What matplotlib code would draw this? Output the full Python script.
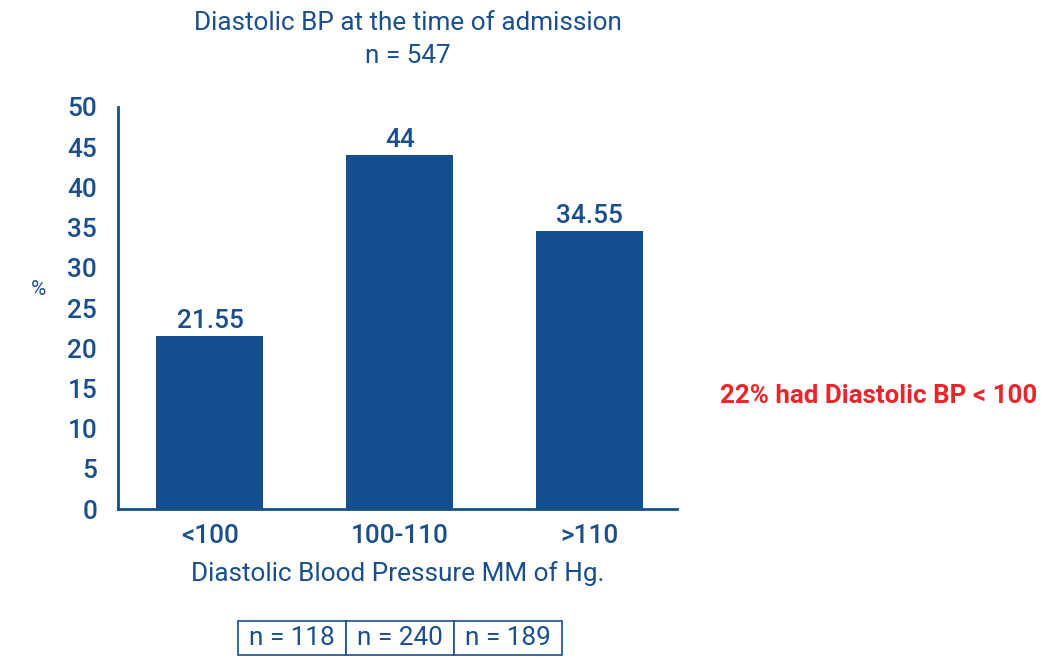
import matplotlib
matplotlib.use("Agg")
import matplotlib.pyplot as plt

categories = ["<100", "100-110", ">110"]
percent = [21.55, 44, 34.55]
value_labels = ["21.55", "44", "34.55"]
counts = ["n = 118", "n = 240", "n = 189"]
y_ticks = [0, 5, 10, 15, 20, 25, 30, 35, 40, 45, 50]

blue = "#14508f"
text_blue = "#1b4f8c"
red = "#e8262b"

plt.rcParams['font.family'] = ['Roboto', 'DejaVu Sans']
fs = 18.8

fig = plt.figure(figsize=(10.41, 6.58), dpi=100)
ax = fig.add_axes([0.1134, 0.2264, 0.5366, 0.611])

x = range(len(categories))
bars = ax.bar(x, percent, width=0.563, color=blue)
for b, lab in zip(bars, value_labels):
    ax.annotate(lab, (b.get_x() + b.get_width() / 2, b.get_height()),
                xytext=(0, 2), textcoords="offset points", fontweight="medium",
                ha="center", va="bottom", fontsize=fs, color=text_blue)

ax.set_xlim(-0.484, 2.458)
ax.set_ylim(0, 50)
ax.set_yticks(y_ticks)
ax.set_xticks(list(x))
ax.set_xticklabels(categories)
ax.tick_params(length=0, labelsize=fs, colors=text_blue)
ax.tick_params(axis="y", pad=15)
ax.tick_params(axis="x", pad=11)
for lbl in ax.get_xticklabels() + ax.get_yticklabels():
    lbl.set_fontweight("medium")
for s in ["top", "right"]:
    ax.spines[s].set_visible(False)
for s in ["left", "bottom"]:
    ax.spines[s].set_color(blue)
    ax.spines[s].set_linewidth(2)

ax.set_xlabel("Diastolic Blood Pressure MM of Hg.", fontsize=fs, color=text_blue, labelpad=9)
fig.text(38 / 1041, 1 - 290 / 658, "%", fontsize=15, color=text_blue, ha="center", va="center")

fig.text(408 / 1041, 1 - 23 / 658, "Diastolic BP at the time of admission",
         fontsize=fs, color=text_blue, ha="center", va="center")
fig.text(408 / 1041, 1 - 56 / 658, "n = 547",
         fontsize=fs, color=text_blue, ha="center", va="center")

fig.text(720 / 1041, 1 - 396 / 658, "22% had Diastolic BP < 100",
         fontsize=18.6, color=red, fontweight="bold", ha="left", va="center")

tbl = ax.table(cellText=[counts], cellLoc="center",
               bbox=[0.2147, -0.3632, 0.5796, 0.0846])
tbl.auto_set_font_size(False)
for cell in tbl.get_celld().values():
    cell.set_edgecolor(blue)
    cell.set_linewidth(1.2)
    cell.get_text().set_fontsize(fs)
    cell.get_text().set_color(text_blue)

fig.savefig("out.png", dpi=100)
